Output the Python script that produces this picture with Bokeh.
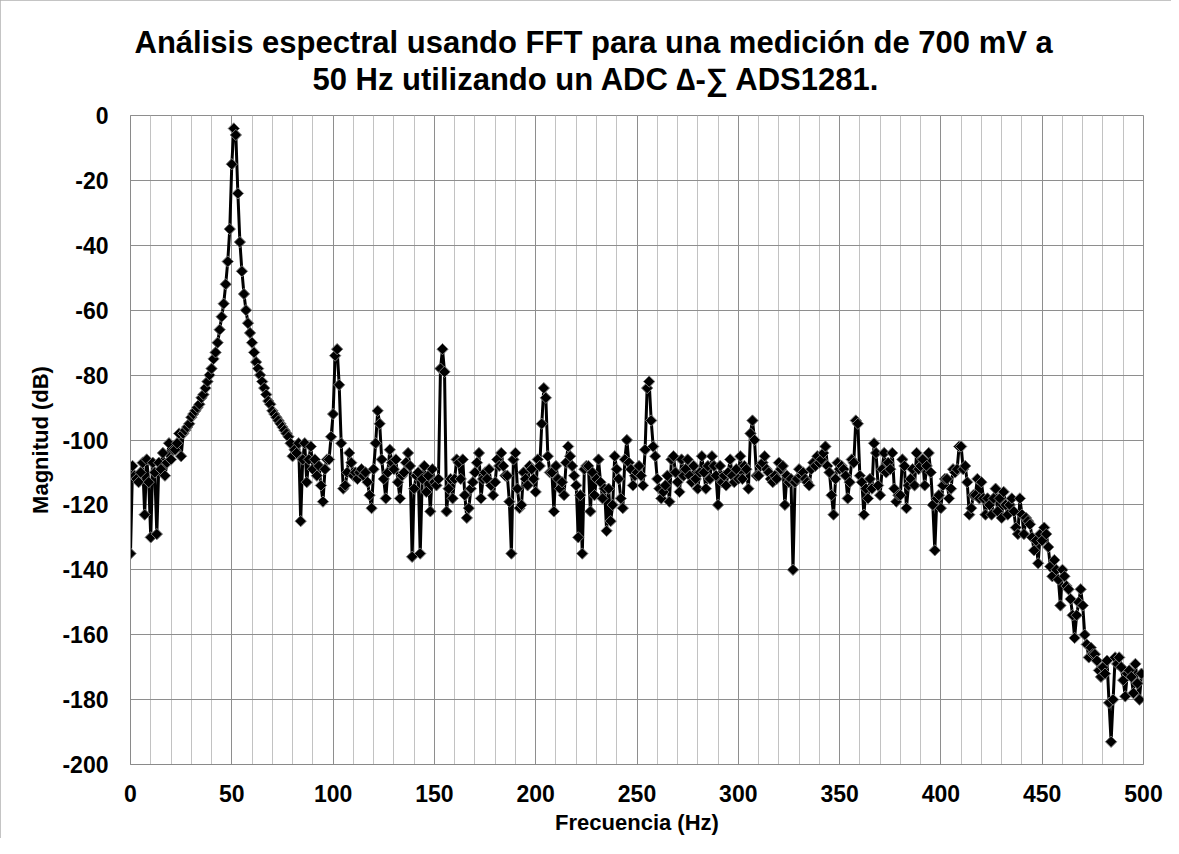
import numpy as np
from bokeh.plotting import figure
from bokeh.models import SingleIntervalTicker, Title, ColumnDataSource, CustomJSTickFormatter
from bokeh.embed import file_html
from bokeh.resources import INLINE

title_line1 = "Análisis espectral usando FFT para una medición de 700 mV a"
title_line2 = "50 Hz utilizando un ADC \u2206-\u2211 ADS1281."
x_title = "Frecuencia (Hz)"
y_title = "Magnitud (dB)"

# Magnitude (dB) per frequency bin
mag = [
    -135, -108, -111, -112, -113, -110, -107, -123, -106, -113,
    -130, -107, -110, -129, -107, -109, -104, -111, -107, -101,
    -106, -103, -103, -101, -98, -105, -98, -97, -96, -95,
    -93, -92, -91, -90, -89, -87, -86, -84, -82, -80,
    -78, -75, -73, -70, -66, -62, -58, -52, -45, -35,
    -15, -4, -6, -24, -39, -48, -55, -60, -64, -67,
    -70, -73, -76, -78, -80, -82, -84, -86, -88, -89,
    -91, -92, -93, -94, -95, -96, -97, -98, -99, -101,
    -105, -103, -104, -101, -125, -106, -101, -113, -106, -102,
    -109, -106, -111, -108, -114, -119, -109, -106, -106, -99,
    -92, -74, -72, -83, -101, -115, -114, -110, -104, -107,
    -111, -110, -112, -110, -109, -111, -110, -113, -117, -121,
    -109, -101, -91, -95, -106, -112, -118, -110, -103, -107,
    -109, -106, -113, -118, -111, -110, -107, -104, -108, -136,
    -115, -111, -110, -135, -112, -108, -116, -111, -122, -109,
    -113, -114, -112, -78, -72, -79, -122, -115, -112, -118,
    -112, -106, -107, -112, -106, -117, -124, -121, -115, -113,
    -110, -107, -104, -118, -112, -110, -112, -109, -114, -117,
    -113, -106, -108, -104, -108, -111, -111, -119, -135, -106,
    -104, -115, -121, -120, -110, -112, -114, -108, -109, -112,
    -116, -106, -108, -95, -84, -87, -105, -110, -110, -122,
    -108, -112, -115, -113, -117, -107, -102, -105, -108, -111,
    -114, -130, -117, -135, -109, -108, -108, -122, -110, -117,
    -112, -106, -113, -118, -115, -128, -115, -125, -120, -105,
    -109, -112, -118, -121, -106, -100, -107, -109, -114, -111,
    -110, -108, -111, -114, -103, -84, -82, -94, -102, -105,
    -112, -115, -118, -116, -114, -111, -119, -106, -105, -110,
    -113, -116, -106, -111, -109, -106, -111, -113, -108, -112,
    -115, -110, -105, -110, -115, -108, -112, -105, -108, -111,
    -120, -108, -113, -111, -114, -110, -106, -111, -113, -109,
    -112, -105, -112, -108, -109, -115, -98, -94, -100, -111,
    -111, -108, -107, -105, -109, -110, -112, -113, -111, -112,
    -107, -109, -108, -120, -111, -113, -112, -140, -113, -112,
    -109, -111, -110, -112, -113, -114, -109, -107, -108, -105,
    -107, -106, -104, -102, -108, -110, -117, -123, -112, -107,
    -109, -108, -109, -111, -118, -113, -106, -107, -94, -95,
    -111, -113, -123, -115, -118, -112, -115, -101, -104, -114,
    -117, -109, -104, -110, -107, -109, -104, -115, -119, -117,
    -117, -106, -108, -121, -114, -112, -109, -114, -104, -109,
    -108, -106, -114, -108, -104, -110, -120, -134, -118, -117,
    -121, -114, -112, -112, -118, -115, -109, -110, -109, -102,
    -102, -109, -108, -113, -123, -121, -117, -117, -112, -118,
    -113, -118, -123, -118, -120, -123, -118, -115, -122, -118,
    -124, -116, -120, -123, -120, -118, -122, -127, -129, -118,
    -123, -129, -124, -125, -126, -130, -134, -131, -138, -129,
    -131, -127, -129, -133, -139, -142, -137, -140, -143, -151,
    -140, -142, -145, -146, -149, -154, -161, -154, -150, -146,
    -151, -160, -163, -167, -164, -166, -166, -168, -171, -173,
    -170, -172, -168, -181, -193, -180, -167, -169, -167, -170,
    -174, -179, -172, -171, -173, -178, -169, -175, -180, -172,
]
freq = list(range(len(mag)))  # frequency bin (Hz)

FONT = "Liberation Sans"
W, H = 1171, 838
ML, MR, MT, MB = 130, 28, 115, 74

p = figure(width=W, height=H, output_backend="svg", toolbar_location=None,
           x_range=(0, 500), y_range=(-200, 0),
           min_border_left=ML, min_border_right=MR, min_border_top=MT, min_border_bottom=MB,
           background_fill_color="white", border_fill_color="white")
p.styles = {"outline": "1px solid #b0b0b0", "outline-offset": "-1px"}
p.outline_line_color = "#8e8e8e"
p.outline_line_width = 1

xt = SingleIntervalTicker(interval=50, num_minor_ticks=5)
yt = SingleIntervalTicker(interval=20, num_minor_ticks=0)
p.xaxis.ticker = xt
p.xgrid.ticker = xt
p.yaxis.ticker = yt
p.ygrid.ticker = yt
fmt = CustomJSTickFormatter(code="return tick.toFixed(0);")
p.xaxis.formatter = fmt
p.yaxis.formatter = fmt

p.xgrid.grid_line_color = "#8e8e8e"
p.xgrid.grid_line_width = 1
p.xgrid.minor_grid_line_color = "#c2c2c2"
p.xgrid.minor_grid_line_width = 1
p.ygrid.grid_line_color = "#8e8e8e"
p.ygrid.grid_line_width = 1

for ax in (p.xaxis, p.yaxis):
    ax.axis_line_color = "#8a8a8a"
    ax.axis_line_width = 1
    ax.major_tick_in = 0
    ax.major_tick_out = 0
    ax.minor_tick_in = 0
    ax.minor_tick_out = 0
    ax.major_label_text_font = FONT
    ax.major_label_text_font_style = "bold"
    ax.major_label_text_font_size = "23px"
    ax.major_label_text_color = "black"
    ax.axis_label_text_font = FONT
    ax.axis_label_text_font_style = "bold"
    ax.axis_label_text_font_size = "22px"
    ax.axis_label_text_color = "black"

p.xaxis.axis_label = x_title
p.yaxis.axis_label = y_title
p.xaxis.major_label_standoff = 20
p.yaxis.major_label_standoff = 22
p.xaxis.axis_label_standoff = 5
p.yaxis.axis_label_standoff = 6

src = ColumnDataSource(data=dict(freq=freq, mag=mag))
p.line("freq", "mag", source=src, line_color="black", line_width=3)
p.scatter("freq", "mag", source=src, marker="square", angle=np.pi / 4, size=8,
          fill_color="black", line_color="#7a7a7a", line_width=1)

# spacer between the frame and the two title lines
p.add_layout(Title(text=" ", text_font_size="1px", standoff=16), "above")
p.add_layout(Title(text=title_line2, align="left", offset=182, standoff=0,
                   text_font=FONT, text_font_style="bold", text_font_size="31px",
                   text_color="black"), "above")
p.add_layout(Title(text=title_line1, align="left", offset=4, standoff=0,
                   text_font=FONT, text_font_style="bold", text_font_size="31px",
                   text_color="black"), "above")

open("out.html", "w").write(file_html(p, INLINE))
